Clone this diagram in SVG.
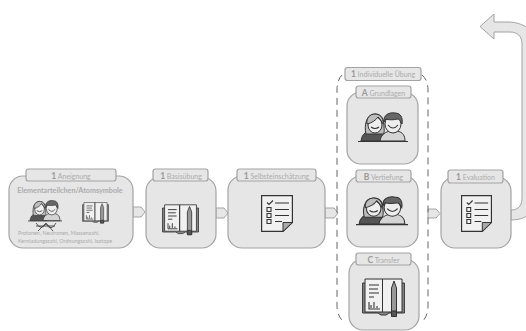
<svg xmlns="http://www.w3.org/2000/svg" width="526" height="331" viewBox="0 0 526 331">
<style>
text{font-family:"Lato","Liberation Sans",sans-serif;fill:#ababab;text-anchor:middle}
.n{fill:#e6e6e6;stroke:#a3a3a3;stroke-width:1.2}
.t{fill:#e6e6e6;stroke:#a3a3a3;stroke-width:1.2}
.l{font-size:7px}
.l tspan{font-size:8.5px;font-weight:700;fill:#999}
.c{fill:#e6e6e6;stroke:#a3a3a3;stroke-width:1}
.i{fill:none;stroke:#333;stroke-width:1.1}
</style>
<defs>
<symbol id="list" viewBox="0 0 32 37" preserveAspectRatio="none">
<path d="M.6.6H31.4V27.5L22 36.4H.6Z" fill="#f1f1f1" stroke="#333" stroke-width="1.2"/>
<path d="M22 36.4V27.5H31.4Z" fill="#aaa" stroke="#333" stroke-width="1"/>
<path d="M6 7.5l2 2 4-4" class="i"/>
<path d="M14 8H28M14 14.5H28M14 20.5H28M14 26.5H21" class="i" stroke-width="1.4"/>
<path d="M6 12.5h4v4h-4zM6 18.5h4v4h-4zM6 24.5h4v4h-4z" class="i"/>
</symbol>
<symbol id="book" viewBox="0 0 43 40" preserveAspectRatio="none">
<path d="M3 5H.6V35H16L19 37H24L27 35H42.4V5H40" fill="#888" stroke="#333"/>
<path d="M3 1H20.500V34H3ZM20.500 1H40V34H20.500Z" fill="#f1f1f1" stroke="#333"/>
<path d="M7 7H17M7 11H16M7 15H17M7 19H12" class="i" stroke-width="1.400"/>
<path d="M7 24V31H18M9 30V27M12 30V24M15 30V28" class="i"/>
<path d="M29.500 10L32 3L34.500 10V38H29.500Z" fill="#999" stroke="#333"/>
<path d="M29.500 33H34.500V38.500H29.500Z" fill="#555" stroke="#333"/>
</symbol>
<symbol id="people" viewBox="0 0 50 31" preserveAspectRatio="none">
<path d="M3 29C4 21 9 19 14 19L20 19C25 20 27 24 27 29Z" fill="#555" stroke="#333"/>
<path d="M22 29C23 22 28 20 32 19H39C45 20 47 24 47 29Z" fill="#d4d4d4" stroke="#333"/>
<path d="M8 22C6 14 8 2 17 2C24 2 26 8 26 14C26 18 27 20 25 22Z" fill="#bdbdbd" stroke="#333"/>
<ellipse cx="17" cy="13" rx="7" ry="8" fill="#eee" stroke="#333"/>
<path d="M9 12C14 11 18 8 20 5C23 8 24 10 25 12C26 5 21 2 17 2C12 2 8 6 9 12Z" fill="#bdbdbd" stroke="#333"/>
<ellipse cx="35" cy="12" rx="8" ry="9" fill="#eee" stroke="#333"/>
<path d="M26 10C25 3 31 0 37 1C43 1 45 6 44 12C42 9 41 7 40 7C36 8 30 8 28 7C27 8 27 9 26 10Z" fill="#666" stroke="#333"/>
<path d="M30 13q5 6 10 0M13 15q4 3 8 0" class="i" stroke-width=".8"/>
<path d="M0 29.500H50" stroke="#333" stroke-width="1.200"/>
</symbol>
</defs>

<g id="connectors">
<path class="c" d="M133 207H141L145 212L141 217H133Z"/>
<path class="c" d="M216 208H224L228 213L224 218H216Z"/>
<path class="c" d="M325 208H334L338 213L334 218H325Z"/>
<path class="c" d="M428 209H436L440 213.500L436 218H428Z"/>
<path class="c" d="M511 210C516 210 522 208 522 198V44C522 36 517 32 510 32H494V39L480 26.500L494 14V22H508C522 22 536 30 536 44V198C536 214 524 220 511 220Z"/>
</g>

<g id="group-dashed">
<path d="M342 75Q337 80 337 90V306Q337 316 344 322M422 75Q428 80 428 90V306Q428 316 422 322" fill="none" stroke="#666" stroke-width="1" stroke-dasharray="7 5"/>
<rect class="t" x="345" y="67.500" width="76" height="13" rx="2.500"/>
<text class="l" x="383" y="77"><tspan>1</tspan> Individuelle Übung</text>
</g>

<g id="node-aneignung">
<rect class="n" x="9" y="176" width="124" height="72" rx="14"/>
<rect class="t" x="26" y="169" width="90" height="12" rx="2.500"/>
<text class="l" x="71" y="179"><tspan>1</tspan> Aneignung</text>
<text x="70" y="193" font-size="7.200" font-weight="700">Elementarteilchen/Atomsymbole</text>
<use href="#people" x="28" y="200" width="34" height="22"/>
<path d="M36 223q5 8 10 1q5 8 10 -1M38 231l8-8l7 8M36 226h19" fill="none" stroke="#333" stroke-width=".8"/>
<use href="#book" x="82" y="202" width="27" height="22"/>
<text x="18" y="235" font-size="5.400" style="text-anchor:start">Protonen, Neutronen, Massenzahl,</text>
<text x="18" y="243" font-size="5.400" style="text-anchor:start">Kernladungszahl, Ordnungszahl, Isotope</text>
</g>

<g id="node-basisuebung">
<rect class="n" x="146" y="177" width="70" height="71" rx="14"/>
<rect class="t" x="153" y="169" width="55" height="12" rx="2.500"/>
<text class="l" x="181" y="179"><tspan>1</tspan> Basisübung</text>
<use href="#book" x="162" y="204" width="37" height="32"/>
</g>

<g id="node-selbst">
<rect class="n" x="228" y="176" width="97" height="72" rx="14"/>
<rect class="t" x="237" y="169" width="79" height="12" rx="2.500"/>
<text class="l" x="276.500" y="179"><tspan>1</tspan> Selbsteinschätzung</text>
<use href="#list" x="261" y="195" width="32" height="37"/>
</g>

<g id="node-a">
<rect class="n" x="347" y="92" width="71" height="72" rx="14"/>
<rect class="t" x="356" y="86" width="55" height="12" rx="2.500"/>
<text class="l" x="383.500" y="96"><tspan>A</tspan> Grundlagen</text>
<use href="#people" x="358" y="112" width="50" height="31"/>
</g>

<g id="node-b">
<rect class="n" x="347" y="176" width="71" height="71" rx="14"/>
<rect class="t" x="356" y="170" width="55" height="12" rx="2.500"/>
<text class="l" x="383.500" y="180"><tspan>B</tspan> Vertiefung</text>
<use href="#people" x="356" y="196" width="52" height="30"/>
</g>

<g id="node-c">
<rect class="n" x="349" y="259" width="70" height="71" rx="14"/>
<rect class="t" x="356" y="253" width="55" height="12" rx="2.500"/>
<text class="l" x="383.500" y="263"><tspan>C</tspan> Transfer</text>
<use href="#book" x="362" y="278" width="43" height="40"/>
</g>

<g id="node-evaluation">
<rect class="n" x="441" y="177" width="70" height="71" rx="14"/>
<rect class="t" x="448" y="170" width="55" height="13" rx="2.500"/>
<text class="l" x="475.500" y="180"><tspan>1</tspan> Evaluation</text>
<use href="#list" x="461" y="195" width="31" height="37"/>
</g>
</svg>
